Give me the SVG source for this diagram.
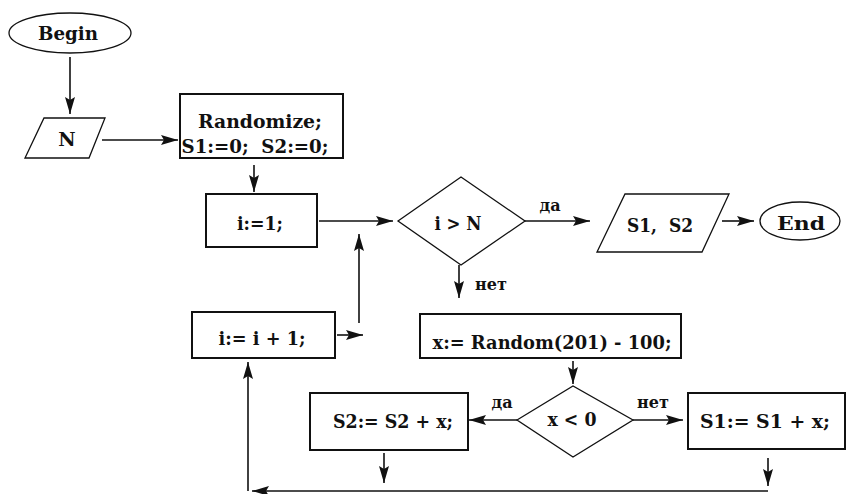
<svg xmlns="http://www.w3.org/2000/svg" width="847" height="494" viewBox="0 0 847 494">
<style>
.box{fill:#fff;stroke:#111;stroke-width:2}
.thin{fill:#fff;stroke:#111;stroke-width:1.3}
.t{font-family:"DejaVu Serif","Liberation Serif",serif;font-weight:bold;font-size:19px;fill:#111;text-anchor:middle}
.s{font-family:"DejaVu Serif","Liberation Serif",serif;font-weight:bold;font-size:16px;fill:#111;text-anchor:middle}
.c line{stroke:#111;stroke-width:1.6}
</style>
<defs>
<marker id="ah" markerUnits="userSpaceOnUse" markerWidth="18" markerHeight="12" refX="17" refY="6" orient="auto">
<path d="M0,1 L17,6 L0,11 L3,6 z" fill="#111"/>
</marker>
</defs>
<rect width="847" height="494" fill="#fff"/>
<g id="begin"><ellipse class="thin" cx="70" cy="33" rx="61" ry="20"/><text class="t" x="68" y="40" textLength="60" lengthAdjust="spacingAndGlyphs">Begin</text></g>
<g id="inputN"><polygon class="thin" points="44,118 105,118 89,158 25,158"/><text class="t" x="67" y="146">N</text></g>
<g id="init"><rect class="box" x="180" y="94" width="163" height="64"/><text class="t" x="260" y="128" textLength="124" lengthAdjust="spacingAndGlyphs">Randomize;</text><text class="t" x="255" y="153" xml:space="preserve" textLength="147" lengthAdjust="spacingAndGlyphs">S1:=0;  S2:=0;</text></g>
<g id="i1"><rect class="box" x="206" y="194" width="111" height="53"/><text class="t" x="260" y="230" textLength="46" lengthAdjust="spacingAndGlyphs">i:=1;</text></g>
<g id="cond1"><polygon class="thin" points="398,221 461,177 525,221 461,265"/><text class="t" x="458" y="230" textLength="47" lengthAdjust="spacingAndGlyphs">i &gt; N</text></g>
<g id="output"><polygon class="thin" points="625,194 729,194 702,252 597,252"/><text class="t" x="660" y="232" xml:space="preserve" textLength="66" lengthAdjust="spacingAndGlyphs">S1,  S2</text></g>
<g id="end"><ellipse class="thin" cx="800" cy="221" rx="40" ry="19"/><text class="t" x="801" y="230" textLength="48" lengthAdjust="spacingAndGlyphs">End</text></g>
<g id="inc"><rect class="box" x="192" y="312" width="143" height="46"/><text class="t" x="262" y="345" textLength="87" lengthAdjust="spacingAndGlyphs">i:= i + 1;</text></g>
<g id="rand"><rect class="box" x="420" y="314" width="261" height="44"/><text class="t" x="552" y="349" textLength="239" lengthAdjust="spacingAndGlyphs">x:= Random(201) - 100;</text></g>
<g id="cond2"><polygon class="thin" points="517,420 573,386 633,420 573,457"/><text class="t" x="572" y="426" textLength="49" lengthAdjust="spacingAndGlyphs">x &lt; 0</text></g>
<g id="s2"><rect class="box" x="310" y="393" width="158" height="57"/><text class="t" x="393" y="428" textLength="120" lengthAdjust="spacingAndGlyphs">S2:= S2 + x;</text></g>
<g id="s1"><rect class="box" x="688" y="393" width="157" height="56"/><text class="t" x="765" y="428" textLength="130" lengthAdjust="spacingAndGlyphs">S1:= S1 + x;</text></g>
<g id="connectors" class="c">
<line x1="70" y1="57" x2="70" y2="114" marker-end="url(#ah)"/>
<line x1="102" y1="140" x2="178" y2="140" marker-end="url(#ah)"/>
<line x1="254" y1="165" x2="254" y2="192" marker-end="url(#ah)"/>
<line x1="319" y1="221" x2="393" y2="221" marker-end="url(#ah)"/>
<line x1="337" y1="335" x2="363" y2="335" marker-end="url(#ah)"/>
<line x1="359" y1="323" x2="359" y2="234" marker-end="url(#ah)"/>
<line x1="525" y1="221" x2="590" y2="221" marker-end="url(#ah)"/>
<line x1="722" y1="221" x2="754" y2="221" marker-end="url(#ah)"/>
<line x1="459" y1="265" x2="459" y2="298" marker-end="url(#ah)"/>
<line x1="573" y1="361" x2="573" y2="384" marker-end="url(#ah)"/>
<line x1="517" y1="420" x2="469" y2="420" marker-end="url(#ah)"/>
<line x1="633" y1="420" x2="683" y2="420" marker-end="url(#ah)"/>
<line x1="384" y1="453" x2="384" y2="483" marker-end="url(#ah)"/>
<line x1="768" y1="458" x2="768" y2="486" marker-end="url(#ah)"/>
<line x1="768" y1="491" x2="252" y2="491" marker-end="url(#ah)"/>
<line x1="248" y1="491" x2="248" y2="362" marker-end="url(#ah)"/>
<text class="s" x="550" y="211">да</text>
<text class="s" x="491" y="290">нет</text>
<text class="s" x="502" y="408">да</text>
<text class="s" x="653" y="408">нет</text>
</g>
</svg>
